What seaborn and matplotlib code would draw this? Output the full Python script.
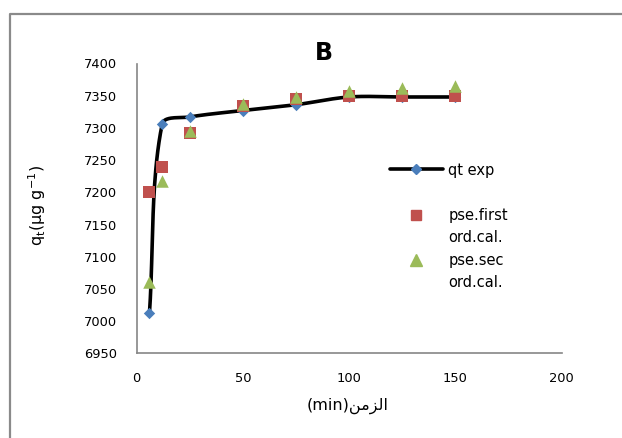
import numpy as np
import matplotlib
matplotlib.use("Agg")
import matplotlib.pyplot as plt
from matplotlib.lines import Line2D
import seaborn as sns
import pandas as pd

# Contact time (min) and adsorbed amount q_t (µg/g)
time_min = [6, 12, 25, 50, 75, 100, 125, 150]
qt_exp = [7012, 7306, 7317, 7327, 7336, 7348, 7348, 7348]
pse_first = [7200, 7240, 7292, 7334, 7345, 7349, 7349, 7349]
pse_sec = [7060, 7217, 7295, 7337, 7348, 7358, 7362, 7365]

series_labels = ["qt exp", "pse.first\nord.cal.", "pse.sec\nord.cal."]
x_ticks = [0, 50, 100, 150, 200]
y_ticks = [6950, 7000, 7050, 7100, 7150, 7200, 7250, 7300, 7350, 7400]
panel_title = "B"
y_title = r"q$_{\mathrm{t}}$(μg g$^{\mathrm{-1}}$)"
# Arabic word for "time", written in presentation forms (visual order)
x_title = "(min)" + "\uFEE6\uFEE3\uFEB0\uFEDF\uFE8D"

BLUE = "#4A7EBB"
RED = "#C0504D"
GREEN = "#9BBB59"
GRAY = "#868686"

sns.set_theme(style="white")
plt.rcParams["font.family"] = ["DejaVu Sans"]
plt.rcParams["mathtext.default"] = "regular"
plt.rcParams["text.color"] = "black"

W, H = 622, 438
fig = plt.figure(figsize=(W / 100, H / 100), dpi=100)
ax = fig.add_axes([136.7 / W, 1 - 353.3 / H, (561.5 - 136.7) / W, (353.3 - 63.5) / H])
ax.set_xlim(x_ticks[0], x_ticks[-1])
ax.set_ylim(y_ticks[0], y_ticks[-1])
ax.set_xticks(x_ticks)
ax.set_yticks(y_ticks)
ax.tick_params(axis="both", length=0, labelsize=9.4, colors="black")
ax.tick_params(axis="x", pad=13.2)
ax.tick_params(axis="y", pad=14.2)
for side in ("top", "right"):
    ax.spines[side].set_visible(False)
for side in ("left", "bottom"):
    ax.spines[side].set_color(GRAY)
    ax.spines[side].set_linewidth(1.2)


def smooth_curve(ax, xs, ys, n=40):
    """Bezier smoothing through the points, computed in display space."""
    pts = ax.transData.transform(np.column_stack([xs, ys]))
    ext = np.vstack([pts[0], pts, pts[-1]])
    t = np.linspace(0, 1, n)[:, None]
    out = []
    for i in range(len(pts) - 1):
        p0, p1, p2, p3 = ext[i], ext[i + 1], ext[i + 2], ext[i + 3]
        d01 = np.hypot(*(p1 - p0))
        d12 = np.hypot(*(p2 - p1))
        d23 = np.hypot(*(p3 - p2))
        c1 = p1 + (p2 - p0) * d12 / (d01 + d12) / 3
        c2 = p2 - (p3 - p1) * d12 / (d12 + d23) / 3
        seg = (1 - t) ** 3 * p1 + 3 * (1 - t) ** 2 * t * c1 + 3 * (1 - t) * t ** 2 * c2 + t ** 3 * p2
        out.append(seg if i == 0 else seg[1:])
    return ax.transData.inverted().transform(np.vstack(out))


df = pd.DataFrame({"t": time_min, "exp": qt_exp, "first": pse_first, "sec": pse_sec})

curve = smooth_curve(ax, df["t"].values, df["exp"].values)
ax.plot(curve[:, 0], curve[:, 1], color="black", lw=2.6, solid_capstyle="round", zorder=2)
sns.scatterplot(data=df, x="t", y="exp", marker="D", s=5.8 ** 2, color=BLUE,
                linewidth=0, ax=ax, zorder=3, legend=False)
sns.scatterplot(data=df, x="t", y="first", marker="s", s=8.4 ** 2, color=RED,
                linewidth=0, ax=ax, zorder=4, legend=False)
sns.scatterplot(data=df, x="t", y="sec", marker="^", s=9.0 ** 2, color=GREEN,
                linewidth=0, ax=ax, zorder=5, legend=False)
ax.set_xlabel("")
ax.set_ylabel("")

# Legend: each wrapped label gets its own row, the marker sits beside the first line
h_exp = Line2D([], [], color="black", lw=2.6, marker="D", ms=5.6, mfc=BLUE, mec=BLUE)
h_first = Line2D([], [], ls="none", marker="s", ms=7.9, mfc=RED, mec=RED)
h_sec = Line2D([], [], ls="none", marker="^", ms=8.6, mfc=GREEN, mec=GREEN)
blank = Line2D([], [], ls="none")
first_lines = series_labels[1].split("\n")
sec_lines = series_labels[2].split("\n")
handles = [h_exp, blank, h_first, blank, h_sec, blank]
labels = [series_labels[0], " ", first_lines[0], first_lines[1], sec_lines[0], sec_lines[1]]
fig.legend(handles, labels, loc="upper left", bbox_to_anchor=(390 / W, 1 - 162.5 / H),
           bbox_transform=fig.transFigure, frameon=False, fontsize=10.5,
           handlelength=3.63, handletextpad=0.36, borderpad=0, borderaxespad=0,
           labelspacing=0.52, numpoints=1)

fig.text(323.5 / W, 1 - 53.5 / H, panel_title, ha="center", va="center",
         fontsize=17, fontweight="bold",
         family=["Liberation Sans Narrow", "DejaVu Sans"])
fig.text(37 / W, 1 - 206 / H, y_title, rotation=90, ha="center", va="center", fontsize=11.5)
fig.text(348 / W, 1 - 406 / H, x_title, ha="center", va="center", fontsize=11.5)

# Outer chart frame
fig.add_artist(Line2D([10 / W, 10 / W, 1.0], [0.0, 1 - 14 / H, 1 - 14 / H],
                      transform=fig.transFigure, color="#8A8A8A", lw=1.6))

fig.savefig("out.png", dpi=100, facecolor="white")
